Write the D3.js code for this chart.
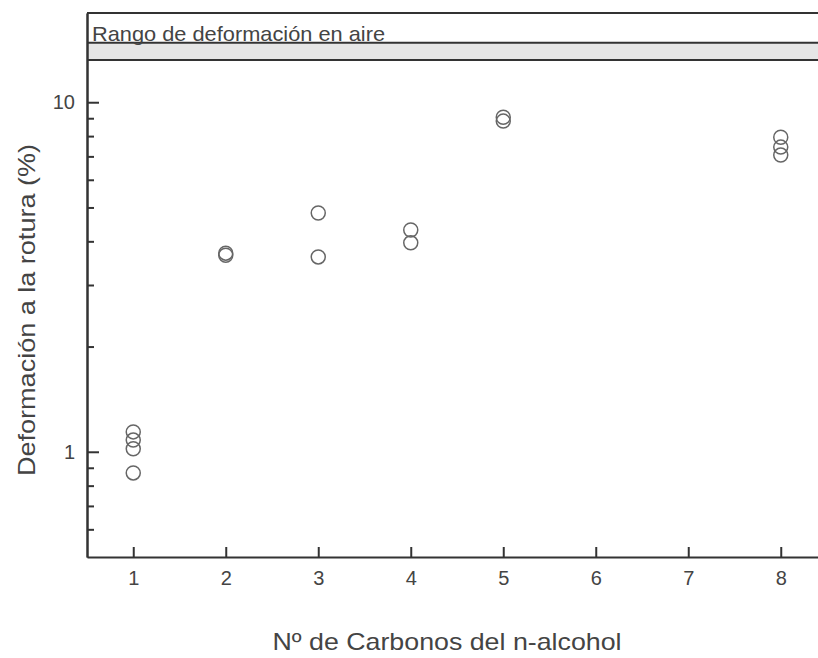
<!DOCTYPE html>
<html>
<head>
<meta charset="utf-8">
<script src="https://cdn.jsdelivr.net/npm/d3@7"></script>
<style>
  body { margin: 0; background: #fff; }
  text { font-family: "Liberation Sans", Arial, sans-serif; fill: #444; }
</style>
</head>
<body>
<div id="chart"></div>
<script>
// data
const carbons = [1, 1, 1, 1, 2, 2, 3, 3, 4, 4, 5, 5, 8, 8, 8]
const strain = [1.14, 1.08, 1.02, 0.87, 3.65, 3.7, 4.82, 3.61, 4.31, 3.96, 9.06, 8.83, 7.94, 7.44, 7.06]
const airRange = [13.2, 14.8]
const airLabel = 'Rango de deformación en aire'
const xTicks = [1, 2, 3, 4, 5, 6, 7, 8]
const yMajor = [1, 10]
const yMinor = [0.6, 0.7, 0.8, 0.9, 2, 3, 4, 5, 6, 7, 8, 9]
const xTitle = 'Nº de Carbonos del n-alcohol'
const yTitle = 'Deformación a la rotura (%)'

const width = 818
const height = 658
const plotLeft = 87
const plotRight = 827
const plotTop = 13
const plotBottom = 557
const ink = '#333'

const svg = d3.select('#chart')
  .append('svg')
  .attr('width', width)
  .attr('height', height)

const x = d3.scaleLinear().domain([0.5, 8.5]).range([plotLeft, plotRight])
const y = d3.scaleLog().domain([0.5, 18]).range([plotBottom, plotTop])

// band for the range measured in air
svg.append('rect')
  .attr('x', plotLeft)
  .attr('y', y(airRange[1]))
  .attr('width', plotRight - plotLeft)
  .attr('height', y(airRange[0]) - y(airRange[1]))
  .attr('fill', '#e6e6e6')
svg.selectAll('.band-line')
  .data(airRange)
  .enter()
  .append('line')
  .attr('x1', plotLeft)
  .attr('x2', plotRight)
  .attr('y1', d => y(d))
  .attr('y2', d => y(d))
  .attr('stroke', ink)
  .attr('stroke-width', 2)
svg.append('text')
  .attr('x', 92)
  .attr('y', y(airRange[1]) - 2)
  .attr('font-size', 21)
  .attr('textLength', 293)
  .attr('lengthAdjust', 'spacingAndGlyphs')
  .text(airLabel)

// top frame line
svg.append('line')
  .attr('x1', plotLeft)
  .attr('x2', plotRight)
  .attr('y1', plotTop)
  .attr('y2', plotTop)
  .attr('stroke', ink)
  .attr('stroke-width', 2)

// x axis, ticks pointing inward
const gx = svg.append('g')
  .attr('transform', 'translate(0,' + plotBottom + ')')
  .call(d3.axisBottom(x).tickValues(xTicks).tickFormat(d3.format('d'))
    .tickSize(-10).tickSizeOuter(0).tickPadding(14))

// y axis, minor ticks first then major
const gyMinor = svg.append('g')
  .attr('transform', 'translate(' + plotLeft + ',0)')
  .call(d3.axisLeft(y).tickValues(yMinor).tickFormat('')
    .tickSize(-7).tickSizeOuter(0))
const gy = svg.append('g')
  .attr('transform', 'translate(' + plotLeft + ',0)')
  .call(d3.axisLeft(y).tickValues(yMajor).tickFormat(d3.format('d'))
    .tickSize(-12).tickSizeOuter(0).tickPadding(12))

for (const g of [gx, gy, gyMinor]) {
  g.selectAll('path, line').attr('stroke', ink).attr('stroke-width', 2)
  g.selectAll('text')
    .attr('font-size', 20)
    .attr('fill', '#444')
    .style('font-family', '"Liberation Sans", Arial, sans-serif')
}

// points
svg.selectAll('circle')
  .data(carbons.map((c, i) => [c, strain[i]]))
  .enter()
  .append('circle')
  .attr('cx', d => x(d[0]))
  .attr('cy', d => y(d[1]))
  .attr('r', 7)
  .attr('fill', 'none')
  .attr('stroke', '#666')
  .attr('stroke-width', 1.5)

// axis titles
svg.append('text')
  .attr('x', 447)
  .attr('y', 650)
  .attr('text-anchor', 'middle')
  .attr('font-size', 24)
  .attr('textLength', 349)
  .attr('lengthAdjust', 'spacingAndGlyphs')
  .text(xTitle)

svg.append('text')
  .attr('transform', 'translate(35,310) rotate(-90)')
  .attr('text-anchor', 'middle')
  .attr('font-size', 24)
  .attr('textLength', 332)
  .attr('lengthAdjust', 'spacingAndGlyphs')
  .text(yTitle)
</script>
</body>
</html>
